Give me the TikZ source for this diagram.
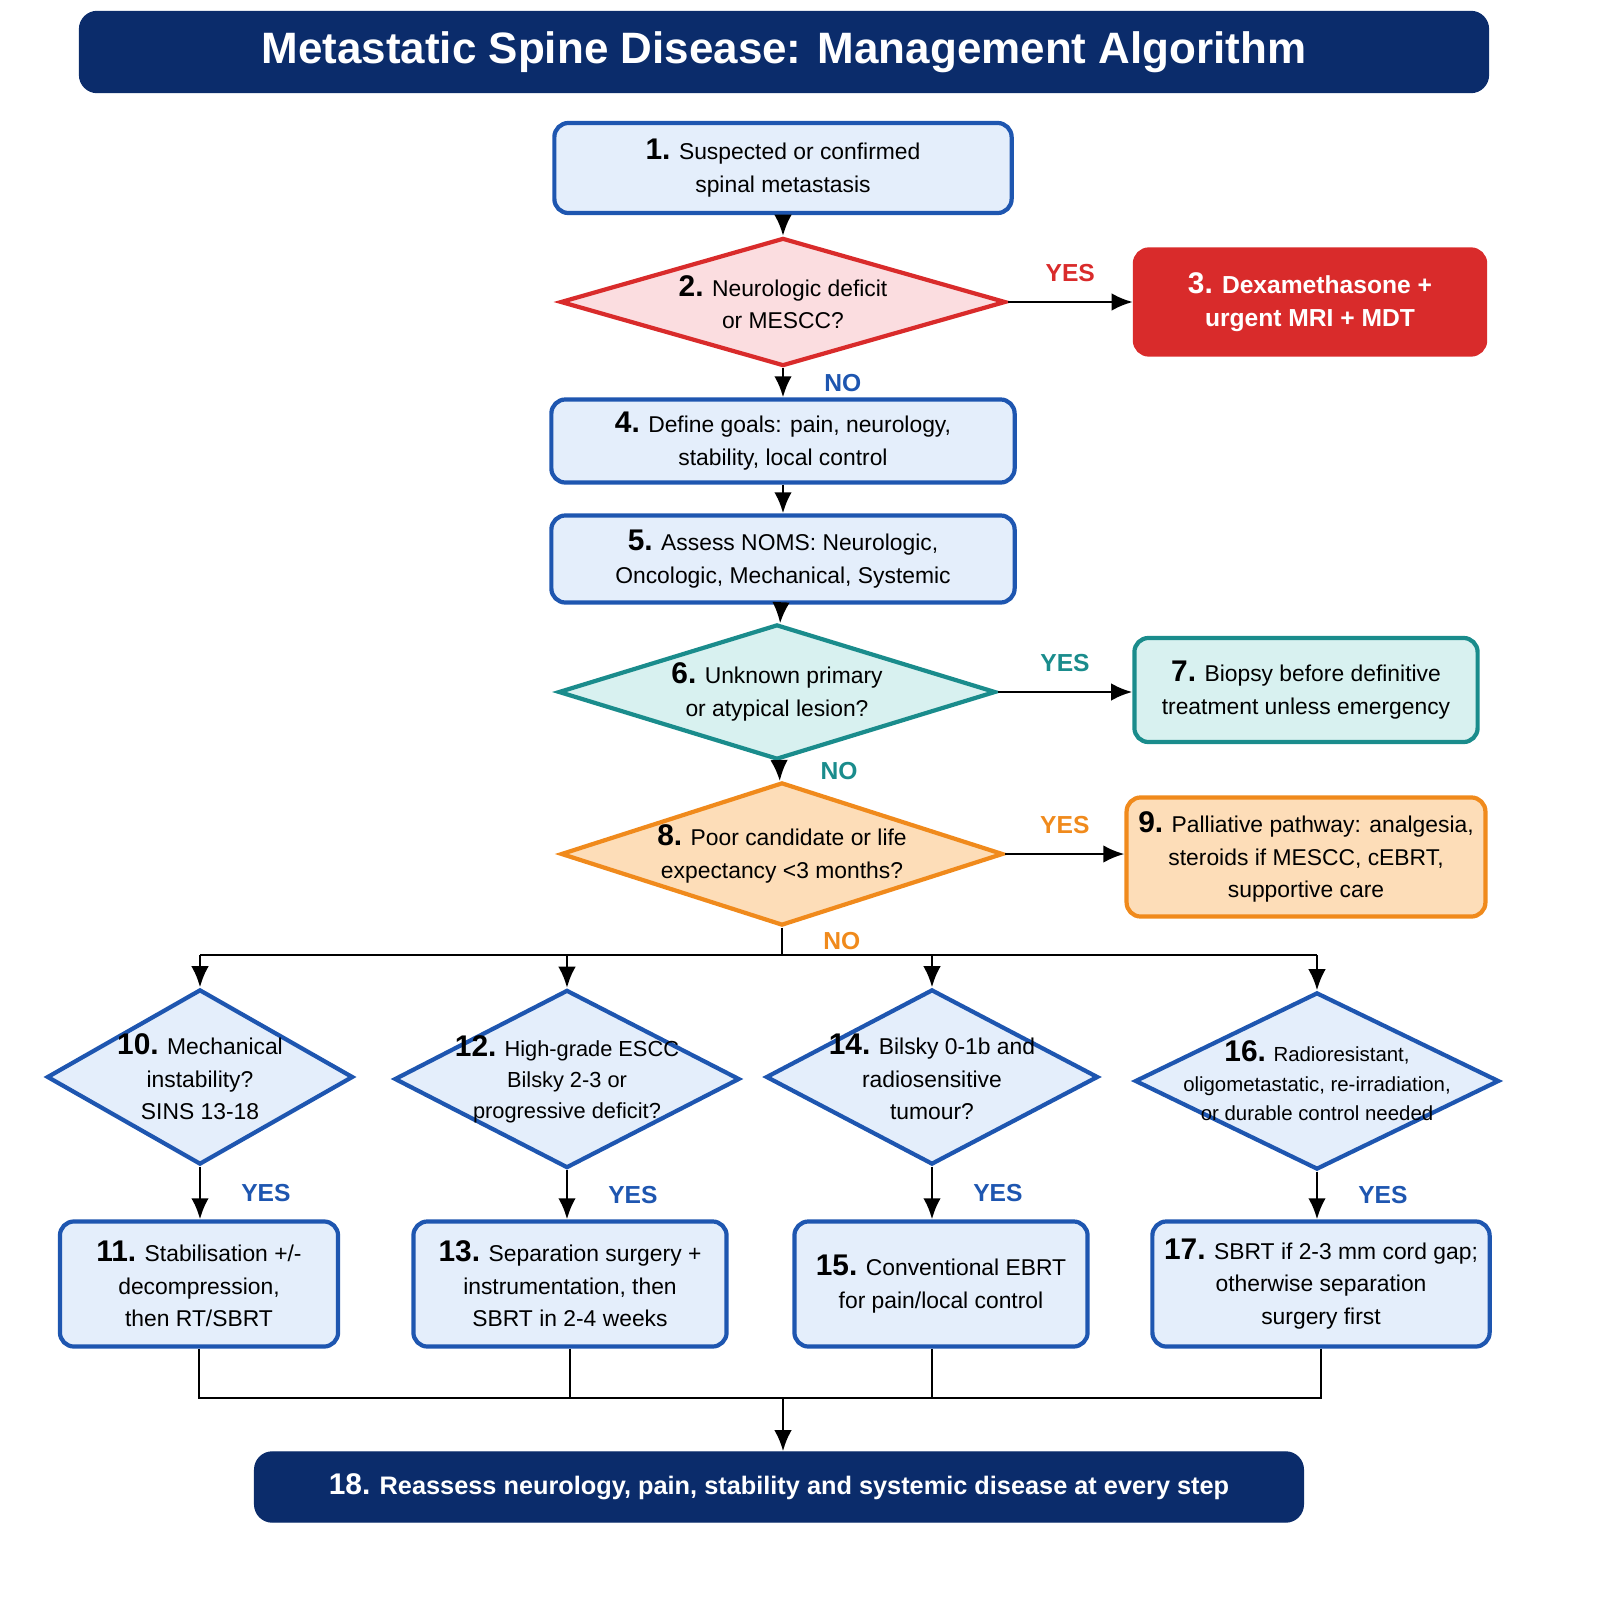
\documentclass[tikz,border=0pt]{standalone}
\usepackage{fontspec}
\setmainfont{Liberation Sans}
\usetikzlibrary{shapes.geometric, arrows.meta, positioning}
\definecolor{navy}{HTML}{0B2C6B}
\definecolor{blueline}{HTML}{1E56B0}
\definecolor{bluefill}{HTML}{E4EEFB}
\definecolor{redline}{HTML}{D92B2B}
\definecolor{redfill}{HTML}{FBDDE0}
\definecolor{tealline}{HTML}{1A8C8C}
\definecolor{tealfill}{HTML}{D8F1F0}
\definecolor{orangeline}{HTML}{F08A1C}
\definecolor{orangefill}{HTML}{FDDDB8}
\newcommand{\nr}[1]{{\fontsize{8.5}{9}\selectfont\bfseries #1}}
\begin{document}
\begin{tikzpicture}[
    x=0.01cm, y=-0.01cm,
    every node/.style={font=\fontsize{6.5}{9.2}\selectfont, align=center},
    box/.style={rectangle, rounded corners=4pt, draw=blueline, fill=bluefill, line width=1.2pt, minimum width=#1},
    dia/.style={diamond, draw=blueline, fill=bluefill, line width=1.2pt, inner sep=0pt},
    dark/.style={rectangle, rounded corners=5pt, draw=navy, fill=navy, text=white},
    arrow/.style={-{Latex[length=6pt,width=5pt]}, line width=0.8pt},
    link/.style={line width=0.8pt},
    tag/.style={font=\fontsize{7}{9}\selectfont\bfseries}
]
    \useasboundingbox (0,0) rectangle (1600,1600);

    % Title
    \node [dark, minimum width=14.08cm, minimum height=0.81cm, font=\fontsize{12.5}{15}\selectfont\bfseries] (title) at (784,52) {Metastatic Spine Disease: Management Algorithm};

    % Main column
    \node [box=4.57cm, minimum height=0.9cm] (b1) at (783,168) {\nr{1.} Suspected or confirmed\\spinal metastasis};
    \node [dia, draw=redline, fill=redfill, minimum width=4.45cm, minimum height=1.28cm,
        label={[align=center]center:\nr{2.} Neurologic deficit\\or MESCC?}] (d2) at (783,302) {};
    \node [box=3.5cm, minimum height=1.05cm, draw=redline, fill=redline, text=white, font=\fontsize{7}{9.4}\selectfont\bfseries] (b3) at (1310,302) {\nr{3.} Dexamethasone +\\urgent MRI + MDT};
    \node [box=4.63cm, minimum height=0.83cm] (b4) at (783,441) {\nr{4.} Define goals: pain, neurology,\\stability, local control};
    \node [box=4.63cm, minimum height=0.87cm] (b5) at (783,559) {\nr{5.} Assess NOMS: Neurologic,\\Oncologic, Mechanical, Systemic};
    \node [dia, draw=tealline, fill=tealfill, minimum width=4.37cm, minimum height=1.35cm,
        label={[align=center]center:\nr{6.} Unknown primary\\or atypical lesion?}] (d6) at (777,692) {};
    \node [box=3.43cm, minimum height=1.04cm, draw=tealline, fill=tealfill] (b7) at (1306,690) {\nr{7.} Biopsy before definitive\\treatment unless emergency};
    \node [dia, draw=orangeline, fill=orangefill, minimum width=4.42cm, minimum height=1.43cm,
        label={[align=center]center:\nr{8.} Poor candidate or life\\expectancy <3 months?}] (d8) at (782,854) {};
    \node [box=3.43cm, minimum height=1.19cm, draw=orangeline, fill=orangefill] (b9) at (1306,857) {\nr{9.} Palliative pathway: analgesia,\\steroids if MESCC, cEBRT,\\supportive care};

    % Branch diamonds
    \node [dia, minimum width=3.06cm, minimum height=1.75cm,
        label={[align=center]center:\nr{10.} Mechanical\\instability?\\SINS 13-18}] (d10) at (200,1077) {};
    \node [dia, minimum width=3.45cm, minimum height=1.78cm,
        label={[align=center, font=\fontsize{6.2}{8.8}\selectfont]center:\nr{12.} High-grade ESCC\\Bilsky 2-3 or\\progressive deficit?}] (d12) at (567,1079) {};
    \node [dia, minimum width=3.32cm, minimum height=1.75cm,
        label={[align=center]center:\nr{14.} Bilsky 0-1b and\\radiosensitive\\tumour?}] (d14) at (932,1077) {};
    \node [dia, minimum width=3.64cm, minimum height=1.77cm,
        label={[align=center, font=\fontsize{5.8}{8.4}\selectfont]center:\nr{16.} Radioresistant,\\oligometastatic, re-irradiation,\\or durable control needed}] (d16) at (1317,1081) {};

    % Branch boxes
    \node [box=2.78cm, minimum height=1.25cm] (b11) at (199,1284) {\nr{11.} Stabilisation +/-\\decompression,\\then RT/SBRT};
    \node [box=3.13cm, minimum height=1.25cm] (b13) at (570,1284) {\nr{13.} Separation surgery +\\instrumentation, then\\SBRT in 2-4 weeks};
    \node [box=2.93cm, minimum height=1.25cm] (b15) at (941,1284) {\nr{15.} Conventional EBRT\\for pain/local control};
    \node [box=3.28cm, minimum height=1.25cm] (b17) at (1321,1284) {\nr{17.} SBRT if 2-3 mm cord gap;\\otherwise separation\\surgery first};

    \node [dark, minimum width=10.48cm, minimum height=0.7cm, font=\fontsize{7.2}{9.4}\selectfont\bfseries] (b18) at (779,1487) {\nr{18.} Reassess neurology, pain, stability and systemic disease at every step};

    \coordinate (br) at (782,955);
    \coordinate (mg) at (783,1398);

    % Connections
    \draw [arrow] (b1) -- (d2);
    \draw [arrow] (d2.east) -- node [tag, text=redline, above=2pt] {YES} (b3.west);
    \draw [arrow] (d2) -- node [tag, text=blueline, right=8pt] {NO} (b4);
    \draw [arrow] (b4) -- (b5);
    \draw [arrow] (b5) -- (d6);
    \draw [arrow] (d6.east) -- node [tag, text=tealline, above=2pt] {YES} (b7.west |- d6.east);
    \draw [arrow] (d6) -- node [tag, text=tealline, right=8pt] {NO} (d8);
    \draw [arrow] (d8.east) -- node [tag, text=orangeline, above=2pt] {YES} (b9.west |- d8.east);
    \draw [link] (d8.south) -- node [tag, text=orangeline, right=8pt] {NO} (br);
    \draw [link] (d10.north |- br) -- (d16.north |- br);
    \foreach \d in {d10, d12, d14, d16}
        \draw [arrow] (\d.north |- br) -- (\d.north);
    \draw [arrow] (d10.south) -- node [tag, text=blueline, right=8pt] {YES} (d10.south |- b11.north);
    \draw [arrow] (d12.south) -- node [tag, text=blueline, right=8pt] {YES} (d12.south |- b13.north);
    \draw [arrow] (d14.south) -- node [tag, text=blueline, right=8pt] {YES} (d14.south |- b15.north);
    \draw [arrow] (d16.south) -- node [tag, text=blueline, right=8pt] {YES} (d16.south |- b17.north);
    \foreach \b in {b11, b13, b17}
        \draw [link] (\b.south) |- (mg);
    \draw [link] (d14.south |- b15.south) |- (mg);
    \draw [arrow] (mg) -- (b18.north -| mg);
\end{tikzpicture}
\end{document}
